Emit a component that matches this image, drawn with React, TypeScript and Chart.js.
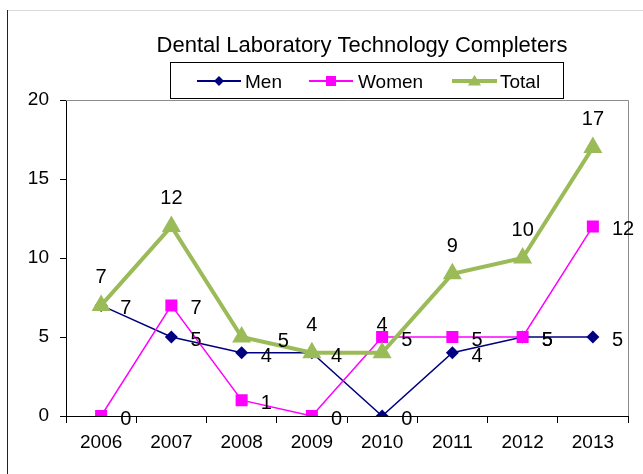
import React, { useEffect, useRef } from "react";
import { Chart, registerables } from "chart.js";

Chart.register(...registerables);

const years = ["2006", "2007", "2008", "2009", "2010", "2011", "2012", "2013"];
const men = [7, 5, 4, 4, 0, 4, 5, 5];
const women = [0, 7, 1, 0, 5, 5, 5, 12];
const total = [7, 12, 5, 4, 4, 9, 10, 17];
const titleText = "Dental Laboratory Technology Completers";
const seriesNames = ["Men", "Women", "Total"];

const MEN_COLOR = "#000080";
const WOMEN_COLOR = "#FF00FF";
const TOTAL_COLOR = "#9BBB59";
const FONT = "'Liberation Sans', Arial, sans-serif";

function drawMarker(ctx: CanvasRenderingContext2D, kind: string, x: number, y: number, s: number, color: string) {
  ctx.save();
  ctx.fillStyle = color;
  ctx.beginPath();
  if (kind === "diamond") {
    ctx.moveTo(x, y - s);
    ctx.lineTo(x + s, y);
    ctx.lineTo(x, y + s);
    ctx.lineTo(x - s, y);
  } else if (kind === "square") {
    ctx.rect(x - s, y - s, 2 * s, 2 * s);
  } else {
    ctx.moveTo(x, y - s);
    ctx.lineTo(x + s * 1.1, y + s * 0.75);
    ctx.lineTo(x - s * 1.1, y + s * 0.75);
  }
  ctx.closePath();
  ctx.fill();
  ctx.restore();
}

const decorPlugin = {
  id: "decor",
  afterDraw(chart: any) {
    const ctx: CanvasRenderingContext2D = chart.ctx;
    const area = chart.chartArea;
    ctx.save();
    // outer frame
    ctx.strokeStyle = "#d9d9d9";
    ctx.lineWidth = 1;
    ctx.beginPath();
    ctx.moveTo(7, 10.5);
    ctx.lineTo(643, 10.5);
    ctx.stroke();
    ctx.strokeStyle = "#222";
    ctx.beginPath();
    ctx.moveTo(7.5, 10);
    ctx.lineTo(7.5, 474);
    ctx.stroke();
    // plot top/right border
    ctx.strokeStyle = "#8c8c8c";
    ctx.beginPath();
    ctx.moveTo(area.left, area.top + 0.5);
    ctx.lineTo(area.right + 0.5, area.top + 0.5);
    ctx.lineTo(area.right + 0.5, area.bottom);
    ctx.stroke();

    // data labels
    ctx.fillStyle = "#000";
    ctx.font = `20px ${FONT}`;
    ctx.textBaseline = "alphabetic";
    const xs = chart.scales.x;
    const ys = chart.scales.y;
    const series = [men, women];
    series.forEach((arr) => {
      arr.forEach((v, i) => {
        const px = xs.getPixelForValue(i);
        const py = ys.getPixelForValue(v);
        ctx.textAlign = "left";
        ctx.fillText(String(v), px + 19, py + 9);
      });
    });
    total.forEach((v, i) => {
      const px = xs.getPixelForValue(i);
      const py = ys.getPixelForValue(v);
      if (i === 2) {
        ctx.textAlign = "left";
        ctx.fillText(String(v), px + 36, py + 10);
      } else {
        ctx.textAlign = "center";
        ctx.fillText(String(v), px, py - 22);
      }
    });

    // title
    ctx.font = `22px ${FONT}`;
    ctx.textAlign = "center";
    ctx.fillText(titleText, 362, 52);

    // legend
    ctx.fillStyle = "#fff";
    ctx.fillRect(170.5, 62.5, 393, 36);
    ctx.strokeStyle = "#000";
    ctx.lineWidth = 1;
    ctx.strokeRect(170.5, 62.5, 393, 36);
    const ly = 81;
    const items = [
      { x1: 197, x2: 241, tx: 245, color: MEN_COLOR, w: 2, kind: "diamond", s: 5 },
      { x1: 309, x2: 353, tx: 358, color: WOMEN_COLOR, w: 2, kind: "square", s: 5 },
      { x1: 452, x2: 497, tx: 500, color: TOTAL_COLOR, w: 4, kind: "triangle", s: 6 },
    ];
    items.forEach((it, k) => {
      ctx.strokeStyle = it.color;
      ctx.lineWidth = it.w;
      ctx.beginPath();
      ctx.moveTo(it.x1, ly);
      ctx.lineTo(it.x2, ly);
      ctx.stroke();
      drawMarker(ctx, it.kind, (it.x1 + it.x2) / 2, ly, it.s, it.color);
      ctx.fillStyle = "#000";
      ctx.font = `19px ${FONT}`;
      ctx.textAlign = "left";
      ctx.fillText(seriesNames[k], it.tx, 88);
    });
    ctx.restore();
  },
};

export default function App() {
  const ref = useRef<HTMLCanvasElement | null>(null);
  useEffect(() => {
    if (!ref.current) return;
    const chart = new Chart(ref.current, {
      type: "line",
      data: {
        labels: years,
        datasets: [
          {
            label: seriesNames[0],
            data: men,
            borderColor: MEN_COLOR,
            backgroundColor: MEN_COLOR,
            borderWidth: 1.5,
            pointStyle: "rectRot",
            pointRadius: 6.5,
            pointBorderWidth: 0,
            pointBackgroundColor: MEN_COLOR,
            tension: 0,
            order: 2,
          },
          {
            label: seriesNames[1],
            data: women,
            borderColor: WOMEN_COLOR,
            backgroundColor: WOMEN_COLOR,
            borderWidth: 1.5,
            pointStyle: "rect",
            pointRadius: 8.5,
            pointBorderWidth: 0,
            pointBackgroundColor: WOMEN_COLOR,
            tension: 0,
            order: 1,
          },
          {
            label: seriesNames[2],
            data: total,
            borderColor: TOTAL_COLOR,
            backgroundColor: TOTAL_COLOR,
            borderWidth: 4,
            pointStyle: "triangle",
            pointRadius: 11,
            pointBorderWidth: 0,
            pointBackgroundColor: TOTAL_COLOR,
            tension: 0,
            order: 0,
          },
        ],
      },
      options: {
        responsive: false,
        animation: false,
        layout: { padding: { top: 100, right: 15, left: 0, bottom: 0 } },
        plugins: {
          legend: { display: false },
          title: { display: false },
          tooltip: { enabled: false },
        },
        scales: {
          x: {
            type: "category",
            offset: true,
            grid: {
              offset: true,
              drawOnChartArea: false,
              drawTicks: true,
              tickLength: 7,
              color: "#000",
            },
            border: { color: "#000", width: 1 },
            ticks: {
              color: "#000",
              font: { family: FONT, size: 19 },
              padding: 8,
              maxRotation: 0,
              autoSkip: false,
            },
            afterFit(scale: any) {
              scale.height = 58;
            },
          },
          y: {
            min: 0,
            max: 20,
            grid: {
              drawOnChartArea: false,
              drawTicks: true,
              tickLength: 6,
              color: "#000",
            },
            border: { color: "#000", width: 1 },
            ticks: {
              stepSize: 5,
              color: "#000",
              font: { family: FONT, size: 19 },
              padding: 11,
            },
            afterFit(scale: any) {
              scale.width = 66;
            },
          },
        },
      },
      plugins: [decorPlugin],
    });
    return () => chart.destroy();
  }, []);
  return (
    <div style={{ position: "fixed", left: 0, top: 0, width: 643, height: 474, background: "#fff" }}>
      <canvas ref={ref} width={643} height={474} style={{ display: "block" }} />
    </div>
  );
}
